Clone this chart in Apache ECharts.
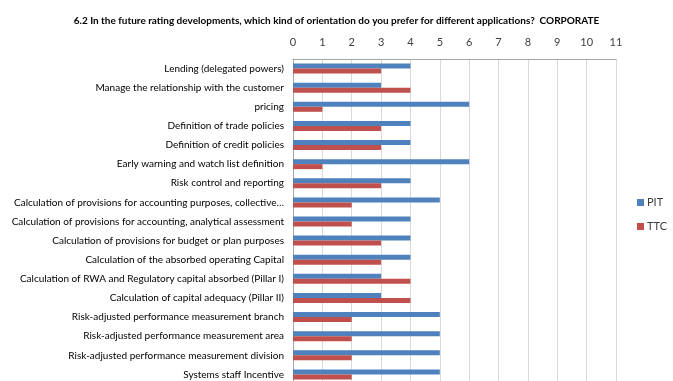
<!DOCTYPE html>
<html>
<head>
<meta charset="utf-8">
<script src="https://cdn.jsdelivr.net/npm/echarts@6/dist/echarts.min.js"></script>
<style>
  html, body { margin: 0; padding: 0; background: #fff; }
  #chart { width: 673px; height: 381px; }
</style>
</head>
<body>
<div id="chart"></div>
<script>
// Applications, listed top to bottom
const categories = [
  'Lending (delegated powers)',
  'Manage the relationship with the customer',
  'pricing',
  'Definition of trade policies',
  'Definition of credit policies',
  'Early warning and watch list definition',
  'Risk control and reporting',
  'Calculation of provisions for accounting purposes, collective…',
  'Calculation of provisions for accounting, analytical assessment',
  'Calculation of provisions for budget or plan purposes',
  'Calculation of the absorbed operating Capital',
  'Calculation of RWA and Regulatory capital absorbed (Pillar I)',
  'Calculation of capital adequacy (Pillar II)',
  'Risk-adjusted performance measurement branch',
  'Risk-adjusted performance measurement area',
  'Risk-adjusted performance measurement division',
  'Systems staff Incentive'
];

// Answers per orientation
const pitValues = [4, 3, 6, 4, 4, 6, 4, 5, 4, 4, 4, 3, 3, 5, 5, 5, 5];
const ttcValues = [3, 4, 1, 3, 3, 1, 3, 2, 2, 3, 3, 4, 4, 2, 2, 2, 2];

const seriesNames = ['PIT', 'TTC'];
const seriesColors = ['#4F81BD', '#C0504D'];

const FONT = 'Lato, "Liberation Sans", sans-serif';

const chart = echarts.init(document.getElementById('chart'), null, { renderer: 'canvas' });

chart.setOption({
  animation: false,
  backgroundColor: '#ffffff',
  title: {
    text: '6.2 In the future rating developments, which kind of orientation do you prefer for different applications?  CORPORATE',
    left: 'center',
    top: 11,
    textStyle: { fontFamily: FONT, fontSize: 10, fontWeight: 'bold', color: '#000' }
  },
  legend: {
    orient: 'vertical',
    left: 632,
    top: 192,
    itemWidth: 7,
    itemHeight: 7,
    itemGap: 13,
    icon: 'rect',
    data: seriesNames,
    textStyle: { fontFamily: FONT, fontSize: 11, color: '#404040', padding: [0, 0, 0, -2] }
  },
  grid: { left: 293, right: 57, top: 59, bottom: -3, outerBoundsMode: 'none', containLabel: false },
  xAxis: {
    type: 'value',
    position: 'top',
    min: 0,
    max: 11,
    interval: 1,
    axisLine: { show: true, lineStyle: { color: '#a6a6a6' } },
    axisTick: { show: false },
    axisLabel: { fontFamily: FONT, fontSize: 11, color: '#404040', margin: 11 },
    splitLine: { show: true, lineStyle: { color: '#d9d9d9' } }
  },
  yAxis: {
    type: 'category',
    inverse: true,
    data: categories,
    axisLine: { show: true, lineStyle: { color: '#a6a6a6' } },
    axisTick: { show: false },
    axisLabel: { fontFamily: FONT, fontSize: 10, color: '#000', margin: 9 }
  },
  series: seriesNames.map((name, i) => ({
    name: name,
    type: 'bar',
    data: i === 0 ? pitValues : ttcValues,
    barWidth: 5,
    barGap: '0%',
    itemStyle: { color: seriesColors[i] }
  }))
});
</script>
</body>
</html>
